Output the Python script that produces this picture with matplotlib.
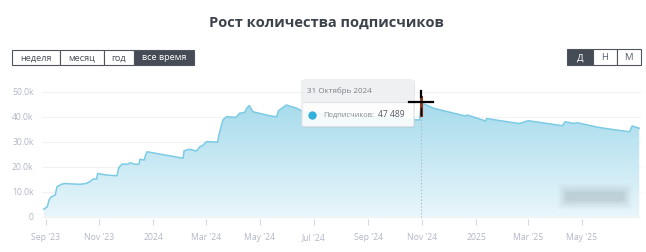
import numpy as np
import pandas as pd
import matplotlib
matplotlib.use("Agg")
import matplotlib.pyplot as plt
import matplotlib.dates as mdates
from matplotlib.patches import Rectangle, FancyBboxPatch
from matplotlib.lines import Line2D
from matplotlib.colors import LinearSegmentedColormap

plt.rcParams['font.family'] = ['Open Sans', 'DejaVu Sans']

# subscriber counts
dates = ['2023-08-30', '2023-09-03', '2023-09-05', '2023-09-07', '2023-09-12', '2023-09-14',
         '2023-09-19', '2023-09-23', '2023-10-02', '2023-10-10', '2023-10-17', '2023-10-21',
         '2023-10-25', '2023-10-29', '2023-10-30', '2023-11-09', '2023-11-21', '2023-11-23',
         '2023-11-27', '2023-12-03', '2023-12-06', '2023-12-11', '2023-12-16', '2023-12-17',
         '2023-12-22', '2023-12-23', '2023-12-25', '2024-02-04', '2024-02-05', '2024-02-11',
         '2024-02-19', '2024-02-23', '2024-02-27', '2024-03-01', '2024-03-07', '2024-03-14',
         '2024-03-16', '2024-03-20', '2024-03-24', '2024-04-04', '2024-04-08', '2024-04-14',
         '2024-04-16', '2024-04-19', '2024-04-23', '2024-05-05', '2024-05-12', '2024-05-20',
         '2024-05-22', '2024-05-31', '2024-06-12', '2024-06-19', '2024-07-10', '2024-07-31',
         '2024-08-06', '2024-08-20', '2024-09-14', '2024-09-18', '2024-10-13', '2024-10-29',
         '2024-10-31', '2024-11-14', '2024-12-07', '2024-12-20', '2024-12-22', '2025-01-12',
         '2025-01-13', '2025-01-29', '2025-02-19', '2025-02-23', '2025-03-01', '2025-03-15',
         '2025-04-09', '2025-04-12', '2025-04-22', '2025-04-26', '2025-05-19', '2025-06-03',
         '2025-06-24', '2025-06-27', '2025-07-05']
subs = [3000, 4000, 6700, 7800, 8700, 12000,
        13000, 13300, 13100, 13000, 13300, 14000,
        15100, 15100, 17300, 16700, 16400, 19700,
        21100, 21000, 21600, 21000, 21000, 23000,
        22700, 24300, 26000, 23400, 26400, 27000,
        26300, 28000, 28700, 30000, 30000, 29800,
        33300, 38700, 40000, 39800, 41400, 41800,
        43400, 44500, 42000, 41000, 40400, 40000,
        42400, 44700, 43400, 42000, 41200, 40800,
        41300, 40600, 39700, 40200, 38900, 38700,
        45600, 43400, 41400, 40300, 40700, 38300,
        39300, 38400, 37300, 37700, 38400, 37700,
        36400, 38000, 37300, 37600, 35800, 35000,
        34000, 36300, 35400]

tick_dates = ['2023-09-01', '2023-11-01', '2024-01-01', '2024-03-01', '2024-05-01', '2024-07-01',
              '2024-09-01', '2024-11-01', '2025-01-01', '2025-03-01', '2025-05-01']
tick_labels = ["Sep '23", "Nov '23", "2024", "Mar '24", "May '24", "Jul '24",
               "Sep '24", "Nov '24", "2025", "Mar '25", "May '25"]
y_ticks = [0, 10000, 20000, 30000, 40000, 50000]
y_labels = ['0', '10.0k', '20.0k', '30.0k', '40.0k', '50.0k']

periods = ['неделя', 'месяц', 'год', 'все время']
scales = ['Д', 'Н', 'М']
hover_date = '2024-10-31'
hover_text = '31 Октябрь 2024'
hover_value = '47 489'

W, H = 646, 252
fig = plt.figure(figsize=(W / 100, H / 100), dpi=100)
tf = fig.transFigure


def fx(px):
    return px / W


def fy(py):
    return 1 - py / H


ax = fig.add_axes([fx(42), fy(219), (641 - 42) / W, (219 - 86) / H])

x = mdates.date2num(pd.to_datetime(dates))
y = np.array(subs, dtype=float)

ax.set_xlim(mdates.date2num(pd.Timestamp('2023-08-28')), mdates.date2num(pd.Timestamp('2025-07-07')))
ax.set_ylim(-900, 52300)

# gradient area
poly = ax.fill_between(x, 0, y, color='none', lw=0)
cmap = LinearSegmentedColormap.from_list('area', ['#e9f6fb', '#a6dbec'])
grad = np.linspace(0, 1, 256).reshape(-1, 1)
img = ax.imshow(grad, cmap=cmap, aspect='auto', origin='lower',
                extent=[x[0], x[-1], 0, 46000], zorder=1)
img.set_clip_path(poly.get_paths()[0], transform=ax.transData)
ax.plot(x, y, color='#7ccbe4', lw=1.1, zorder=3)

# hover guide
hx = mdates.date2num(pd.Timestamp(hover_date))
hy = y[dates.index(hover_date)]
ax.plot([hx, hx], [0, hy], ls=(0, (1, 2)), color='#a9b2c0', lw=0.8, zorder=4)

ax.set_yticks(y_ticks)
ax.set_yticklabels(y_labels)
ax.set_xticks(mdates.date2num(pd.to_datetime(tick_dates)))
ax.set_xticklabels(tick_labels)
ax.tick_params(axis='y', length=0, pad=6, labelsize=6.2, labelcolor='#b3b7c6')
ax.tick_params(axis='x', length=4, width=0.8, color='#d6d9de', pad=6, labelsize=6.2, labelcolor='#b3b7c6')
ax.grid(axis='y', color='#f1f2f3', lw=0.8)
ax.set_axisbelow(True)
for s in ax.spines.values():
    s.set_visible(False)

# title
fig.text(fx(326), fy(23), 'Рост количества подписчиков', ha='center', va='center',
         fontsize=10.5, fontweight='bold', color='#3c424c')

# period buttons
edges = [12, 60, 103.7, 134, 194]
for i, lab in enumerate(periods):
    active = i == len(periods) - 1
    fig.patches.append(Rectangle((fx(edges[i]), fy(64.5)), (edges[i + 1] - edges[i]) / W, 15 / H,
                                 transform=tf, facecolor='#464c56' if active else 'white',
                                 edgecolor='#50555d', lw=0.8))
    fig.text(fx((edges[i] + edges[i + 1]) / 2), fy(60.2), lab, ha='center', va='baseline',
             fontsize=6.6, color='white' if active else '#4a4f58')

edges = [567, 592.7, 616.7, 641]
for i, lab in enumerate(scales):
    active = i == 0
    fig.patches.append(Rectangle((fx(edges[i]), fy(64.5)), (edges[i + 1] - edges[i]) / W, 16 / H,
                                 transform=tf, facecolor='#464c56' if active else 'white',
                                 edgecolor='#50555d', lw=0.8))
    fig.text(fx((edges[i] + edges[i + 1]) / 2), fy(60.2), lab, ha='center', va='baseline',
             fontsize=6.8, color='white' if active else '#5a5e78')

# blurred watermark
for pad, a in [(6, 0.02), (4.5, 0.03), (3, 0.04), (1.5, 0.05), (0, 0.06), (-1.5, 0.07), (-3, 0.08)]:
    fig.patches.append(FancyBboxPatch((fx(563 - pad), fy(204 + pad)), (64 + 2 * pad) / W, (15 + 2 * pad) / H,
                                      boxstyle='round,pad=0,rounding_size=0.01', transform=tf,
                                      facecolor='#7f8c94', edgecolor='none', alpha=a, zorder=5))

# tooltip
fig.patches.append(FancyBboxPatch((fx(303), fy(128)), 112 / W, 47 / H,
                                  boxstyle='round,pad=0,rounding_size=0.006', transform=tf,
                                  facecolor='#000000', edgecolor='none', alpha=0.06, zorder=6))
fig.patches.append(FancyBboxPatch((fx(302), fy(126.7)), 112 / W, 46.7 / H,
                                  boxstyle='round,pad=0,rounding_size=0.006', transform=tf,
                                  facecolor='white', edgecolor='#dde0e4', lw=0.8, alpha=0.9, zorder=7))
fig.patches.append(Rectangle((fx(302.5), fy(101.5)), 111 / W, 21 / H, transform=tf,
                             facecolor='#eef0f1', edgecolor='none', zorder=8))
fig.lines.append(Line2D([fx(302.5), fx(413.5)], [fy(101.5), fy(101.5)], transform=tf,
                        color='#dde0e4', lw=0.8, zorder=9))
fig.text(fx(307), fy(91), hover_text, ha='left', va='center', fontsize=5.8, color='#7d8187', zorder=10)
fig.lines.append(Line2D([fx(312)], [fy(115)], transform=tf, marker='o', markersize=6,
                        markerfacecolor='#33b1db', markeredgecolor='none', zorder=10))
fig.text(fx(323), fy(115), 'Подписчиков:', ha='left', va='center', fontsize=5.4, color='#8b8f95', zorder=10)
fig.text(fx(405), fy(115), hover_value, ha='right', va='center', fontsize=6.2, color='#555a62', zorder=10)

# cursor
fig.lines.append(Line2D([fx(421), fx(421)], [fy(97), fy(115)], transform=tf, color='#8a3b1f', lw=2.2, zorder=11))
fig.lines.append(Line2D([fx(409), fx(433)], [fy(102.3), fy(102.3)], transform=tf, color='black', lw=1.6, zorder=12))
fig.lines.append(Line2D([fx(420.7), fx(420.7)], [fy(91), fy(97)], transform=tf, color='black', lw=1.6, zorder=12))
fig.lines.append(Line2D([fx(420.7), fx(420.7)], [fy(108), fy(115)], transform=tf, color='black', lw=1.0, zorder=12))

fig.savefig('out.png', dpi=100)
